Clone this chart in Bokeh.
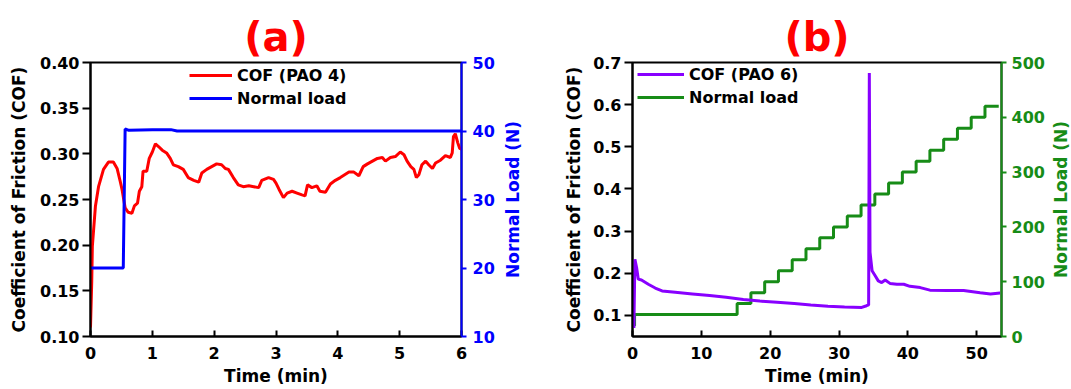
from bokeh.plotting import figure
from bokeh.models import Range1d, LinearAxis, Legend, LegendItem, FixedTicker, Title, NumeralTickFormatter
from bokeh.layouts import row
from bokeh.embed import file_html
from bokeh.resources import INLINE

# ---------------- Panel (a) data ----------------
a_time = [0.00, 0.02, 0.03, 0.08, 0.13, 0.21, 0.29, 0.37, 0.43, 0.48, 0.51, 0.56, 0.61, 0.67, 0.71,
          0.76, 0.79, 0.83, 0.85, 0.91, 0.95, 1.00, 1.05, 1.10, 1.16, 1.23, 1.29, 1.34, 1.42, 1.50,
          1.58, 1.67, 1.75, 1.80, 1.88, 1.96, 2.04, 2.12, 2.18, 2.23, 2.31, 2.39, 2.47, 2.56, 2.64,
          2.72, 2.77, 2.88, 2.96, 3.00, 3.05, 3.12, 3.18, 3.26, 3.34, 3.42, 3.47, 3.51, 3.58, 3.66,
          3.71, 3.80, 3.88, 3.96, 4.04, 4.11, 4.18, 4.26, 4.34, 4.41, 4.48, 4.56, 4.64, 4.72, 4.77,
          4.85, 4.93, 5.01, 5.07, 5.12, 5.18, 5.23, 5.27, 5.31, 5.36, 5.42, 5.47, 5.53, 5.58, 5.66,
          5.74, 5.82, 5.85, 5.87, 5.90, 5.94, 5.97, 6.00]
a_cof = [0.110, 0.160, 0.199, 0.243, 0.264, 0.283, 0.291, 0.291, 0.284, 0.270, 0.261, 0.241, 0.236, 0.235, 0.243,
         0.246, 0.259, 0.264, 0.281, 0.281, 0.295, 0.302, 0.311, 0.308, 0.304, 0.301, 0.295, 0.288, 0.286, 0.283,
         0.274, 0.271, 0.269, 0.279, 0.283, 0.286, 0.289, 0.288, 0.284, 0.283, 0.274, 0.266, 0.264, 0.265, 0.264,
         0.263, 0.271, 0.274, 0.272, 0.268, 0.261, 0.252, 0.257, 0.259, 0.257, 0.255, 0.254, 0.266, 0.263, 0.265,
         0.259, 0.258, 0.267, 0.271, 0.274, 0.277, 0.280, 0.280, 0.276, 0.286, 0.289, 0.292, 0.295, 0.296, 0.292,
         0.296, 0.297, 0.302, 0.299, 0.292, 0.286, 0.283, 0.274, 0.277, 0.288, 0.292, 0.288, 0.284, 0.290, 0.293,
         0.298, 0.296, 0.301, 0.319, 0.322, 0.312, 0.306, 0.305]
a_load_time = [0.00, 0.53, 0.56, 0.62, 1.00, 1.30, 1.40, 6.00]
a_load = [20.0, 20.0, 40.3, 40.1, 40.2, 40.2, 40.0, 40.0]

# ---------------- Panel (b) data ----------------
b_time = [0.2, 0.35, 0.6, 0.84, 1.3, 2.3, 3.3, 4.3, 6.2, 8.7, 11.2, 13.6, 16.1, 18.5, 21.0,
          23.5, 25.9, 28.4, 30.8, 33.3, 34.0, 34.3, 34.4, 34.5, 34.8, 35.25, 35.7, 36.2, 36.7, 37.4,
          38.4, 39.4, 40.3, 41.8, 43.2, 45.7, 48.1, 50.5, 52.0, 53.4]
b_cof = [0.070, 0.233, 0.213, 0.186, 0.184, 0.174, 0.165, 0.158, 0.155, 0.151, 0.147, 0.143, 0.138, 0.134, 0.131,
         0.128, 0.125, 0.122, 0.120, 0.119, 0.123, 0.125, 0.675, 0.250, 0.206, 0.194, 0.182, 0.178, 0.184, 0.176,
         0.174, 0.174, 0.169, 0.166, 0.160, 0.159, 0.159, 0.154, 0.151, 0.153]
b_step_time = [0.0, 0.3, 15.2, 17.2, 19.2, 21.2, 23.2, 25.2, 27.2, 29.2, 31.2, 33.2, 35.2, 37.2, 39.2,
               41.2, 43.2, 45.2, 47.2, 49.2, 51.2, 53.2]
b_step_load = [20, 40, 60, 80, 100, 120, 140, 160, 180, 200, 220, 240, 260, 280, 300,
               320, 340, 360, 380, 400, 420, 420]

FONT = "DejaVu Sans"
RED = "#ff0000"
BLUE = "#0000ff"
PURPLE = "#8800ff"
GREEN = "#178c17"
H = 388


def style_axis(ax, color="black", tick_out=7, tick_in=0, lstand=4, astand=8):
    ax.axis_line_color = color
    ax.axis_line_width = 2
    ax.major_tick_line_color = color
    ax.major_tick_line_width = 2
    ax.major_tick_out = tick_out
    ax.major_tick_in = tick_in
    ax.minor_tick_line_color = None
    ax.major_label_text_font = FONT
    ax.major_label_text_font_style = "bold"
    ax.major_label_text_font_size = "16px"
    ax.major_label_text_color = color
    ax.major_label_standoff = lstand
    ax.axis_label_text_font = FONT
    ax.axis_label_text_font_style = "bold"
    ax.axis_label_text_font_size = "17px"
    ax.axis_label_text_color = color
    ax.axis_label_standoff = astand


def make_fig(width, x_end, y_start, y_end, mb):
    p = figure(width=width, height=H, output_backend="svg", toolbar_location=None,
               x_range=Range1d(0, x_end), y_range=Range1d(y_start, y_end),
               min_border_left=mb[0], min_border_right=mb[1], min_border_top=mb[2], min_border_bottom=mb[3])
    p.xgrid.visible = False
    p.ygrid.visible = False
    p.outline_line_color = "black"
    p.outline_line_width = 2
    p.background_fill_color = "white"
    p.border_fill_color = "white"
    return p


def label_fig(width, left, top, bottom, text, color):
    # narrow strip holding a rotated (bottom-to-top) axis title
    p = figure(width=width, height=H, output_backend="svg", toolbar_location=None,
               x_range=Range1d(0, 1), y_range=Range1d(0, 1),
               x_axis_location=None, y_axis_location=None,
               min_border_left=left, min_border_right=0, min_border_top=top, min_border_bottom=bottom)
    p.grid.visible = False
    p.outline_line_color = None
    p.background_fill_color = "white"
    p.border_fill_color = "white"
    p.add_layout(Title(text=text, align="center", text_font=FONT, text_font_style="bold",
                       text_font_size="17px", text_color=color, standoff=0, offset=0), "left")
    return p


# ---------------- Figure (a) ----------------
pa = make_fig(498, 6, 0.10, 0.40, (90, 37, 62, 50))
pa.extra_y_ranges = {"load": Range1d(10, 50)}
pa.title = Title(text="(a)", align="center", text_font=FONT, text_font_style="bold",
                 text_font_size="40px", text_color=RED, standoff=5, offset=0)
ra = pa.line(a_time, a_cof, line_color=RED, line_width=3)
ba = pa.line(a_load_time, a_load, line_color=BLUE, line_width=3, y_range_name="load")

pa.xaxis.ticker = FixedTicker(ticks=[0, 1, 2, 3, 4, 5, 6])
pa.xaxis.axis_label = "Time (min)"
style_axis(pa.xaxis[0], tick_out=0, tick_in=6, lstand=10, astand=4)
pa.yaxis.ticker = FixedTicker(ticks=[0.10, 0.15, 0.20, 0.25, 0.30, 0.35, 0.40])
pa.yaxis.formatter = NumeralTickFormatter(format="0.00")
pa.yaxis.axis_label = "Coefficient of Friction (COF)"
style_axis(pa.yaxis[0], tick_out=8, lstand=3, astand=8)
rax = LinearAxis(y_range_name="load", ticker=FixedTicker(ticks=[10, 20, 30, 40, 50]))
style_axis(rax, color=BLUE, tick_out=5, lstand=6, astand=0)
pa.add_layout(rax, "right")

leg_a = Legend(items=[LegendItem(label="COF (PAO 4)", renderers=[ra]),
                      LegendItem(label="Normal load", renderers=[ba])],
               location=(99, 228), background_fill_alpha=0, border_line_color=None,
               label_text_font=FONT, label_text_font_style="bold", label_text_font_size="16px",
               label_text_color="black",
               glyph_width=43, glyph_height=20, label_height=20, spacing=3, padding=2, margin=0,
               label_standoff=5)
pa.add_layout(leg_a)

la = label_fig(27, 24, 62, 50, "Normal Load (N)", BLUE)

# ---------------- Figure (b) ----------------
pb = make_fig(523, 53.6, 0.05, 0.70, (107, 47, 61, 51))
pb.extra_y_ranges = {"load": Range1d(0, 500)}
pb.title = Title(text="(b)", align="center", text_font=FONT, text_font_style="bold",
                 text_font_size="40px", text_color=RED, standoff=5, offset=0)
gb = pb.step(b_step_time, b_step_load, mode="after", line_color=GREEN, line_width=3, y_range_name="load")
pbl = pb.line(b_time, b_cof, line_color=PURPLE, line_width=3)

pb.xaxis.ticker = FixedTicker(ticks=[0, 10, 20, 30, 40, 50])
pb.xaxis.axis_label = "Time (min)"
style_axis(pb.xaxis[0], tick_out=0, tick_in=6, lstand=10, astand=4)
pb.yaxis.ticker = FixedTicker(ticks=[0.1, 0.2, 0.3, 0.4, 0.5, 0.6, 0.7])
pb.yaxis.formatter = NumeralTickFormatter(format="0.0")
pb.yaxis.axis_label = "Coefficient of Friction (COF)"
style_axis(pb.yaxis[0], tick_out=8, lstand=3, astand=6)
rbx = LinearAxis(y_range_name="load", ticker=FixedTicker(ticks=[0, 100, 200, 300, 400, 500]))
style_axis(rbx, color=GREEN, tick_out=5, lstand=5, astand=0)
pb.add_layout(rbx, "right")

leg_b = Legend(items=[LegendItem(label="COF (PAO 6)", renderers=[pbl]),
                      LegendItem(label="Normal load", renderers=[gb])],
               location=(5, 229), background_fill_alpha=0, border_line_color=None,
               label_text_font=FONT, label_text_font_style="bold", label_text_font_size="16px",
               label_text_color="black",
               glyph_width=47, glyph_height=20, label_height=20, spacing=3, padding=2, margin=0,
               label_standoff=5)
pb.add_layout(leg_b)

lb = label_fig(23, 21, 61, 51, "Normal Load (N)", GREEN)

layout = row(pa, la, pb, lb)
open("out.html", "w").write(file_html(layout, INLINE))
